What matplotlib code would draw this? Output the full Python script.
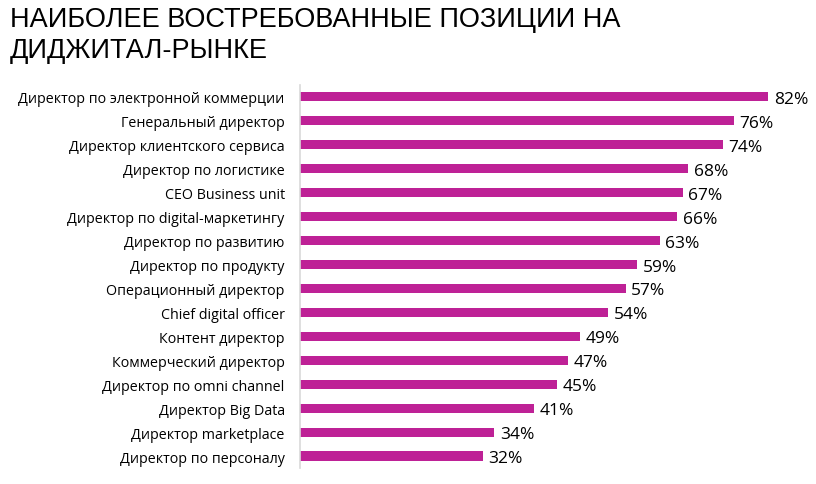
import matplotlib
matplotlib.use("Agg")
import matplotlib.pyplot as plt

# должности и доля (%)
positions = ["Директор по электронной коммерции", "Генеральный директор",
             "Директор клиентского сервиса", "Директор по логистике",
             "CEO Business unit", "Директор по digital-маркетингу",
             "Директор по развитию", "Директор по продукту",
             "Операционный директор", "Chief digital officer",
             "Контент директор", "Коммерческий директор",
             "Директор по omni channel", "Директор Big Data",
             "Директор marketplace", "Директор по персоналу"]
values = [82, 76, 74, 68, 67, 66, 63, 59, 57, 54, 49, 47, 45, 41, 34, 32]

title = "НАИБОЛЕЕ ВОСТРЕБОВАННЫЕ ПОЗИЦИИ НА\nДИДЖИТАЛ-РЫНКЕ"

fig = plt.figure(figsize=(8.16, 4.85), dpi=100)
ax = fig.add_axes([0.3676, 0.033, 0.63, 0.79])

ypos = list(range(len(values)))
bars = ax.barh(ypos, values, height=0.38, color="#BE2196")
ax.set_ylim(len(values) - 0.5, -0.5)
ax.set_xlim(0, 90)

ax.set_yticks(ypos)
ax.set_yticklabels(positions, fontsize=10.3, family=["Open Sans", "DejaVu Sans"], color="black")
ax.tick_params(axis="y", length=0, pad=11)
ax.set_xticks([])

for s in ["top", "right", "bottom"]:
    ax.spines[s].set_visible(False)
ax.spines["left"].set_color("#d9d9d9")
ax.spines["left"].set_linewidth(1.2)

for b, v in zip(bars, values):
    ax.annotate("%d%%" % v, (b.get_width(), b.get_y() + b.get_height() / 2),
                xytext=(4, -1.5), textcoords="offset points", va="center", ha="left",
                fontsize=12.5, family=["Open Sans", "DejaVu Sans"], color="black")

fig.text(0.012, 0.985, title, ha="left", va="top", fontsize=19.5,
         family=["Liberation Sans", "DejaVu Sans"], linespacing=1.25)

fig.savefig("out.png", dpi=100)
